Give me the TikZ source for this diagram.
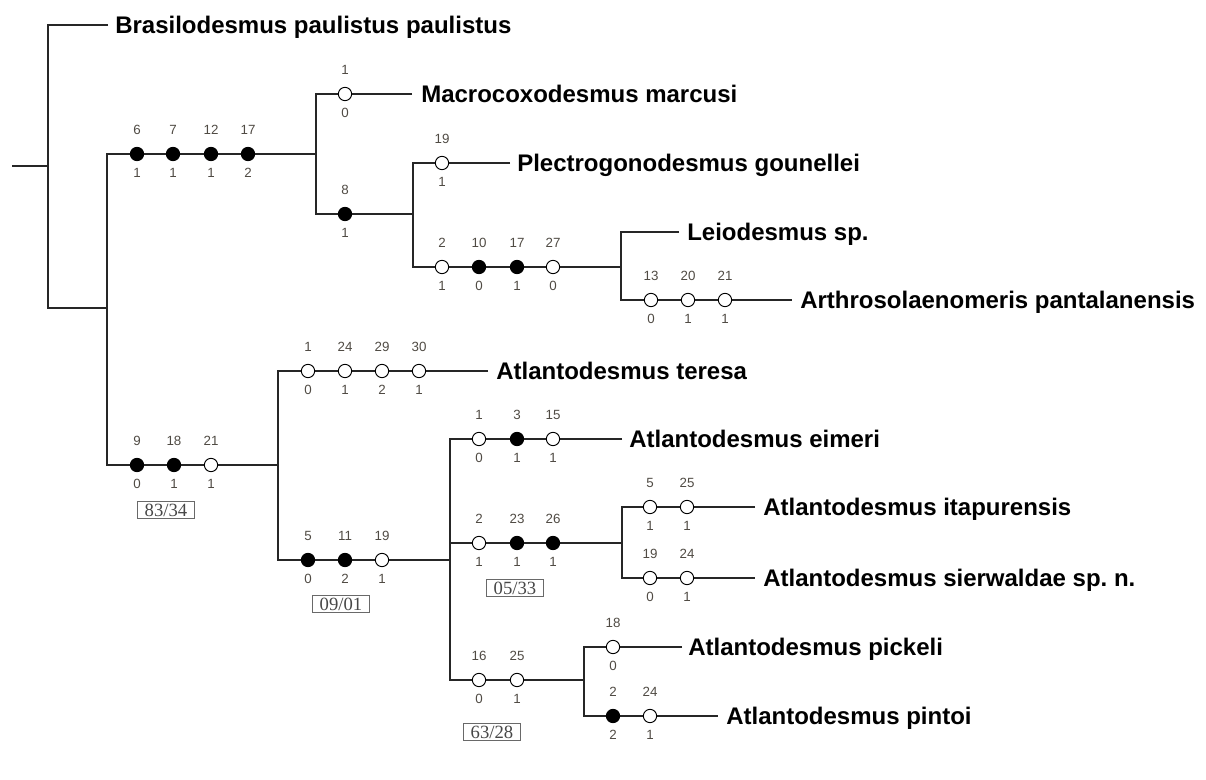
\documentclass[tikz,border=0pt]{standalone}
\usepackage{fontspec}
\setmainfont{Liberation Sans}
\newfontfamily\boxserif{Liberation Serif}
\definecolor{numgray}{RGB}{80,75,68}
\definecolor{boxgray}{RGB}{105,105,105}
\newcommand\chst[6]{%
  \node[#4] (#1) at (#2,#3) {};
  \node[num] (#1t) at (#2,#3-24) {#5};
  \node[num] (#1b) at (#2,#3+19) {#6};}
\begin{document}
\begin{tikzpicture}[x=0.75pt,y=-0.75pt,
  br/.style={line width=1.1pt, black!85},
  stc/.style={circle, draw=black, line width=0.7pt, minimum size=10pt, inner sep=0},
  F/.style={stc, fill=black},
  O/.style={stc, fill=white},
  num/.style={font=\fontsize{10}{11}\selectfont, text=numgray, inner sep=0},
  taxon/.style={font=\fontsize{18}{20}\selectfont\bfseries, anchor=base west, inner sep=0},
  supbox/.style={draw=boxgray, line width=0.6pt, font=\boxserif\fontsize{14}{15}\selectfont,
    text=black!72, minimum width=42.75pt, minimum height=12.75pt, inner sep=0}]
\useasboundingbox (0,0) rectangle (1206,780);
\fill[white] (0,0) rectangle (1206,780);

% ---- coordinates of the tree
\coordinate (r0) at (12,166);
\coordinate (r) at (48,166);
\coordinate (tBras) at (108,25);
\coordinate (nAB) at (107,308);
\coordinate (nA) at (316,154);
\coordinate (nB) at (278,465);
\coordinate (tMac) at (412,94);
\coordinate (nC) at (413,214);
\coordinate (tPle) at (510,163);
\coordinate (nD) at (621,267);
\coordinate (tLei) at (679,232);
\coordinate (tArt) at (792,300);
\coordinate (tTer) at (488,371);
\coordinate (nE) at (450,560);
\coordinate (tEim) at (622,439);
\coordinate (nF) at (622,543);
\coordinate (nG) at (584,680);
\coordinate (tIta) at (755,507);
\coordinate (tSie) at (755,578);
\coordinate (tPic) at (682,647);
\coordinate (tPin) at (718,716);

% ---- branches
\draw[br] (r0) -- (r);
\draw[br] (tBras) -| (r) |- (nAB);
\draw[br] (nA) -| (nAB) |- (nB);
\draw[br] (tMac) -| (nA) |- (nC);
\draw[br] (tPle) -| (nC) |- (nD);
\draw[br] (tLei) -| (nD) |- (tArt);
\draw[br] (tTer) -| (nB) |- (nE);
\draw[br] (tEim) -| (nE) |- (nG);
\draw[br] (nE |- nF) -- (nF);
\draw[br] (tIta) -| (nF) |- (tSie);
\draw[br] (tPic) -| (nG) |- (tPin);

% ---- character states
\chst{a1}{137}{154}{F}{6}{1}
\chst{a2}{173}{154}{F}{7}{1}
\chst{a3}{211}{154}{F}{12}{1}
\chst{a4}{248}{154}{F}{17}{2}
\chst{m1}{345}{94}{O}{1}{0}
\chst{c1}{345}{214}{F}{8}{1}
\chst{p1}{442}{163}{O}{19}{1}
\chst{d1}{442}{267}{O}{2}{1}
\chst{d2}{479}{267}{F}{10}{0}
\chst{d3}{517}{267}{F}{17}{1}
\chst{d4}{553}{267}{O}{27}{0}
\chst{ar1}{651}{300}{O}{13}{0}
\chst{ar2}{688}{300}{O}{20}{1}
\chst{ar3}{725}{300}{O}{21}{1}
\chst{b1}{137}{465}{F}{9}{0}
\chst{b2}{174}{465}{F}{18}{1}
\chst{b3}{211}{465}{O}{21}{1}
\chst{te1}{308}{371}{O}{1}{0}
\chst{te2}{345}{371}{O}{24}{1}
\chst{te3}{382}{371}{O}{29}{2}
\chst{te4}{419}{371}{O}{30}{1}
\chst{e1}{308}{560}{F}{5}{0}
\chst{e2}{345}{560}{F}{11}{2}
\chst{e3}{382}{560}{O}{19}{1}
\chst{ei1}{479}{439}{O}{1}{0}
\chst{ei2}{517}{439}{F}{3}{1}
\chst{ei3}{553}{439}{O}{15}{1}
\chst{f1}{479}{543}{O}{2}{1}
\chst{f2}{517}{543}{F}{23}{1}
\chst{f3}{553}{543}{F}{26}{1}
\chst{it1}{650}{507}{O}{5}{1}
\chst{it2}{687}{507}{O}{25}{1}
\chst{si1}{650}{578}{O}{19}{0}
\chst{si2}{687}{578}{O}{24}{1}
\chst{g1}{479}{680}{O}{16}{0}
\chst{g2}{517}{680}{O}{25}{1}
\chst{pk1}{613}{647}{O}{18}{0}
\chst{pn1}{613}{716}{F}{2}{2}
\chst{pn2}{650}{716}{O}{24}{1}

% ---- support values
\node[supbox] (s1) at (166,510) {83/34};
\node[supbox] (s2) at (341,604) {09/01};
\node[supbox] (s3) at (515,588) {05/33};
\node[supbox] (s4) at (492,732) {63/28};

% ---- taxa
\node[taxon] (lBras) at ([shift={(7,8.5)}]tBras) {Brasilodesmus paulistus paulistus};
\node[taxon] (lMac) at ([shift={(9,8.5)}]tMac) {Macrocoxodesmus marcusi};
\node[taxon] (lPle) at ([shift={(7,8.5)}]tPle) {Plectrogonodesmus gounellei};
\node[taxon] (lLei) at ([shift={(8,8.5)}]tLei) {Leiodesmus sp.};
\node[taxon] (lArt) at ([shift={(8,8.5)}]tArt) {Arthrosolaenomeris pantalanensis};
\node[taxon] (lTer) at ([shift={(8,8.5)}]tTer) {Atlantodesmus teresa};
\node[taxon] (lEim) at ([shift={(7,8.5)}]tEim) {Atlantodesmus eimeri};
\node[taxon] (lIta) at ([shift={(8,8.5)}]tIta) {Atlantodesmus itapurensis};
\node[taxon] (lSie) at ([shift={(8,8.5)}]tSie) {Atlantodesmus sierwaldae sp.\ n.};
\node[taxon] (lPic) at ([shift={(6,8.5)}]tPic) {Atlantodesmus pickeli};
\node[taxon] (lPin) at ([shift={(8,8.5)}]tPin) {Atlantodesmus pintoi};
\end{tikzpicture}
\end{document}
